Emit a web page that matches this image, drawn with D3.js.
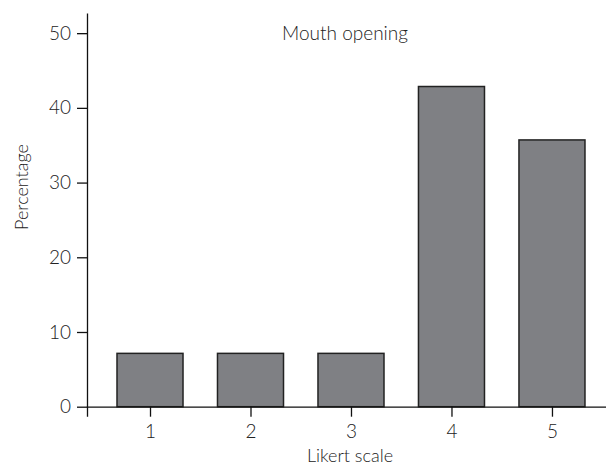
<!DOCTYPE html>
<html>
<head>
<meta charset="utf-8">
<script src="https://cdn.jsdelivr.net/npm/d3@7"></script>
<style>
  body { margin: 0; background: #fff; }
  text { font-family: Lato, "Open Sans", sans-serif; font-weight: 300; fill: #222; }
  .axis path, .axis line { stroke: #111; stroke-width: 1.3; }
  .axis text { font-size: 19px; }
</style>
</head>
<body>
<svg id="chart" width="606" height="468"></svg>
<script>
// data
let categories = [1, 2, 3, 4, 5];
let percentages = [7.14, 7.14, 7.14, 42.86, 35.71];
let yTicks = [0, 10, 20, 30, 40, 50];
let title = "Mouth opening";

let svg = d3.select("#chart");

let xScale = d3.scaleLinear()
    .domain([0.373, 5.677])
    .range([87, 620]);
let yScale = d3.scaleLinear()
    .domain([0, 52.7])
    .range([406.7, 13]);

let barW = xScale(1.657) - xScale(1);

// bars
svg.selectAll(".bar")
    .data(categories)
  .enter().append("rect")
    .attr("class", "bar")
    .attr("x", function(d) { return xScale(d) - barW / 2; })
    .attr("y", function(d, i) { return yScale(percentages[i]); })
    .attr("width", barW)
    .attr("height", function(d, i) { return yScale(0) - yScale(percentages[i]); })
    .attr("fill", "#7f8084")
    .attr("stroke", "#222")
    .attr("stroke-width", 1.5);

// y axis
svg.append("g")
    .attr("class", "axis")
    .attr("transform", "translate(87,0)")
    .call(d3.axisLeft(yScale).tickValues(yTicks).tickFormat(d3.format("d"))
      .tickSize(10).tickSizeOuter(0).tickPadding(6));

// x axis
svg.append("g")
    .attr("class", "axis")
    .attr("transform", "translate(0," + yScale(0) + ")")
    .call(d3.axisBottom(xScale).tickValues(categories).tickFormat(d3.format("d"))
      .tickSize(10).tickSizeOuter(10).tickPadding(8));

svg.selectAll(".axis .domain").attr("fill", "none");

// title
svg.append("text")
    .attr("x", 345)
    .attr("y", 40)
    .style("text-anchor", "middle")
    .style("font-size", "19px")
    .text(title);

// axis labels
svg.append("text")
    .attr("x", 350)
    .attr("y", 462)
    .style("text-anchor", "middle")
    .style("font-size", "18px")
    .text("Likert scale");

svg.append("text")
    .attr("transform", "translate(28," + 187 + ") rotate(-90)")
    .style("text-anchor", "middle")
    .style("font-size", "18px")
    .text("Percentage");
</script>
</body>
</html>
